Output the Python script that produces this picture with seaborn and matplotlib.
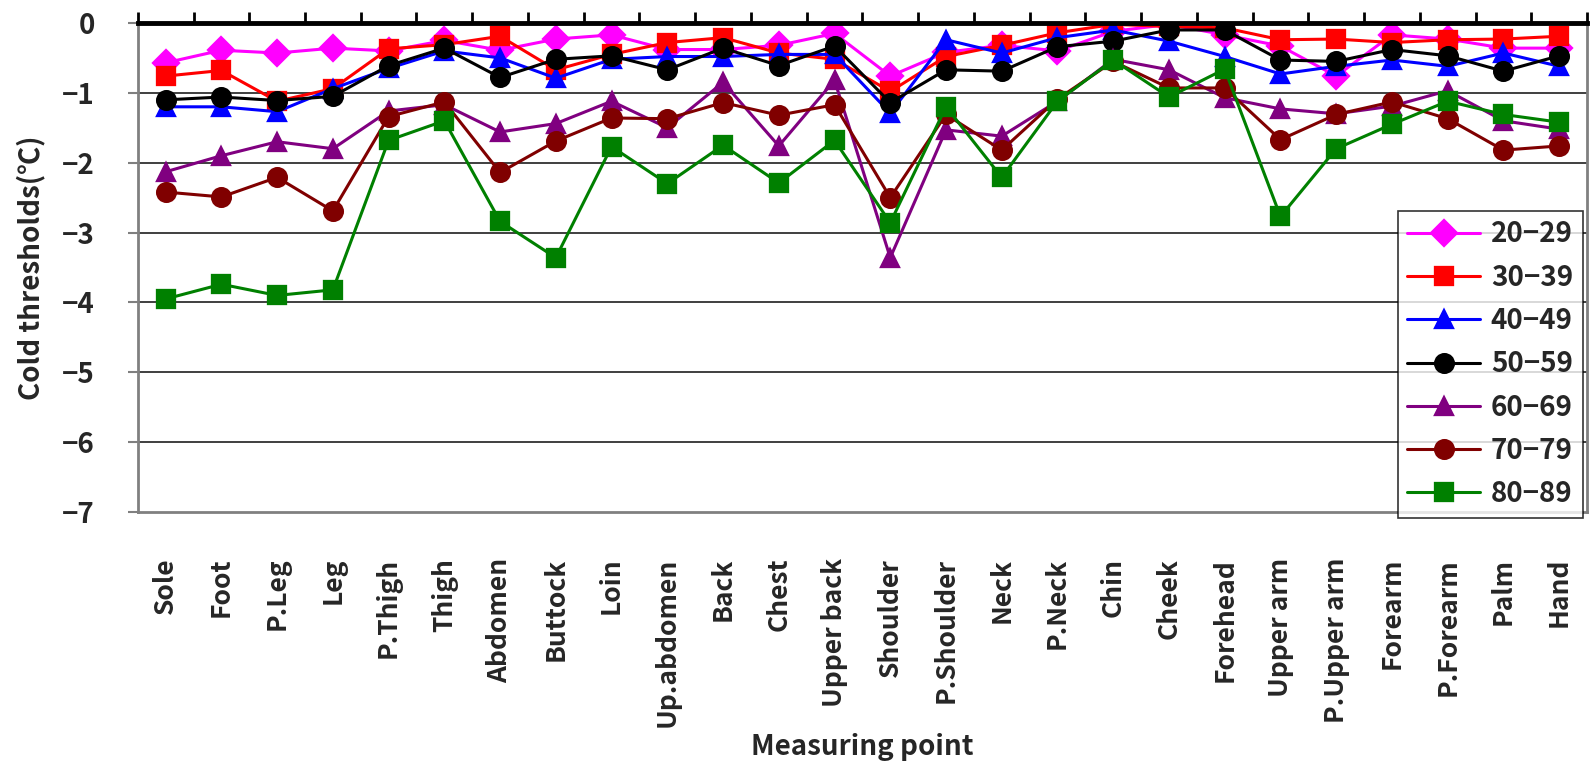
import numpy as np
import pandas as pd
import matplotlib
matplotlib.use("Agg")
import matplotlib.pyplot as plt
from matplotlib.ticker import FixedLocator
import seaborn as sns

# Measuring points along the x axis
points = ["Sole", "Foot", "P.Leg", "Leg", "P.Thigh", "Thigh", "Abdomen", "Buttock",
          "Loin", "Up.abdomen", "Back", "Chest", "Upper back", "Shoulder",
          "P.Shoulder", "Neck", "P.Neck", "Chin", "Cheek", "Forehead", "Upper arm",
          "P.Upper arm", "Forearm", "P.Forearm", "Palm", "Hand"]

# Cold thresholds (degC) by age group
age_20_29 = [-0.57, -0.39, -0.43, -0.36, -0.40, -0.25, -0.39, -0.23, -0.17, -0.38,
             -0.38, -0.32, -0.15, -0.76, -0.42, -0.32, -0.40, -0.12, -0.02, -0.17,
             -0.33, -0.76, -0.17, -0.23, -0.36, -0.36]
age_30_39 = [-0.76, -0.68, -1.12, -0.94, -0.37, -0.31, -0.19, -0.67, -0.45, -0.28,
             -0.21, -0.43, -0.52, -0.98, -0.48, -0.32, -0.14, -0.02, -0.05, -0.07,
             -0.24, -0.23, -0.28, -0.24, -0.23, -0.19]
age_40_49 = [-1.20, -1.20, -1.27, -0.94, -0.65, -0.40, -0.50, -0.79, -0.52, -0.48,
             -0.48, -0.45, -0.45, -1.29, -0.24, -0.43, -0.21, -0.10, -0.26, -0.48,
             -0.73, -0.62, -0.53, -0.62, -0.43, -0.62]
age_50_59 = [-1.10, -1.06, -1.11, -1.05, -0.61, -0.36, -0.78, -0.52, -0.47, -0.67,
             -0.36, -0.61, -0.33, -1.14, -0.67, -0.69, -0.34, -0.26, -0.10, -0.10,
             -0.53, -0.55, -0.38, -0.47, -0.69, -0.47]
age_60_69 = [-2.13, -1.90, -1.70, -1.80, -1.26, -1.17, -1.56, -1.44, -1.12, -1.50,
             -0.85, -1.76, -0.82, -3.36, -1.53, -1.62, -1.12, -0.52, -0.67, -1.07,
             -1.23, -1.30, -1.19, -0.97, -1.40, -1.52]
age_70_79 = [-2.42, -2.49, -2.21, -2.69, -1.34, -1.13, -2.14, -1.69, -1.36, -1.37,
             -1.14, -1.32, -1.17, -2.50, -1.31, -1.82, -1.09, -0.55, -0.93, -0.93,
             -1.67, -1.31, -1.13, -1.37, -1.82, -1.76]
age_80_89 = [-3.95, -3.74, -3.90, -3.82, -1.68, -1.40, -2.84, -3.36, -1.77, -2.30,
             -1.75, -2.29, -1.68, -2.86, -1.20, -2.21, -1.12, -0.53, -1.06, -0.66,
             -2.77, -1.80, -1.45, -1.12, -1.31, -1.42]

age_labels = ["20−29", "30−39", "40−49", "50−59", "60−69", "70−79", "80−89"]
series = [age_20_29, age_30_39, age_40_49, age_50_59, age_60_69, age_70_79, age_80_89]
colors = ["#ff00ff", "#ff0000", "#0000ff", "#000000", "#800080", "#800000", "#008000"]
markers = ["D", "s", "^", "o", "^", "o", "s"]
y_ticks = [0, -1, -2, -3, -4, -5, -6, -7]

df = pd.DataFrame({
    "point": np.tile(points, len(series)),
    "age": np.repeat(age_labels, len(points)),
    "value": np.concatenate(series),
})

sns.set_theme(style="white")
plt.rcParams["font.family"] = ["Noto Sans CJK JP", "DejaVu Sans"]
plt.rcParams["axes.unicode_minus"] = True

fig = plt.figure(figsize=(15.91, 7.61), dpi=100)
ax = fig.add_axes([0.0866, 0.3272, 0.9109, 0.6426])

sns.pointplot(data=df, x="point", y="value", hue="age", order=points,
              hue_order=age_labels, palette=colors, markers=markers,
              linestyles="-", dodge=False, errorbar=None, ax=ax,
              markersize=13.5, linewidth=2.2)

ax.set_xlim(-0.5, len(points) - 0.5)
ax.set_ylim(-7, 0)

# horizontal gridlines at each integer
for v in y_ticks[1:-1]:
    ax.axhline(v, color="#303030", lw=1.3, zorder=0)

ax.set_yticks(y_ticks)
ax.set_yticklabels([("−%d" % -v) if v < 0 else "0" for v in y_ticks])
ax.tick_params(axis="y", which="major", direction="out", length=7, width=1.5,
               color="#808080", left=True, pad=24, labelsize=20)

# category labels below the plot, boundary ticks on the top axis line
ax.set_xticks(range(len(points)))
ax.set_xticklabels(points, rotation=90, va="top", ha="center")
ax.tick_params(axis="x", which="major", bottom=False, top=False, pad=27, labelsize=19)
ax.xaxis.set_minor_locator(FixedLocator(np.arange(-0.5, len(points), 1.0)))
ax.tick_params(axis="x", which="minor", top=True, bottom=False, direction="out",
               length=8, width=2, color="black")

for t in ax.get_xticklabels() + ax.get_yticklabels():
    t.set_fontweight("bold")

for side in ["left", "bottom", "right"]:
    ax.spines[side].set_visible(True)
    ax.spines[side].set_color("#808080")
    ax.spines[side].set_linewidth(2)
ax.spines["top"].set_visible(True)
ax.spines["top"].set_color("black")
ax.spines["top"].set_linewidth(3.5)

ax.set_xlabel("Measuring point", fontsize=20, fontweight="bold")
ax.xaxis.set_label_coords(0.5, -0.48)
ax.xaxis.label.set_va("center")
ax.set_ylabel("Cold thresholds(℃)", fontsize=20, fontweight="bold")
ax.yaxis.set_label_coords(-0.074, 0.5)
ax.yaxis.label.set_va("center")

handles, labels = ax.get_legend_handles_labels()
leg = ax.legend(handles, labels, loc="lower right", bbox_to_anchor=(0.997, -0.012),
                borderaxespad=0, frameon=True, fancybox=False, fontsize=20,
                handlelength=2.6, handletextpad=0.4, labelspacing=0.55,
                borderpad=0.35, title=None)
leg.get_frame().set_edgecolor("black")
leg.get_frame().set_linewidth(1.2)
for t in leg.get_texts():
    t.set_fontweight("bold")

fig.savefig("out.png", dpi=100, facecolor="white")
